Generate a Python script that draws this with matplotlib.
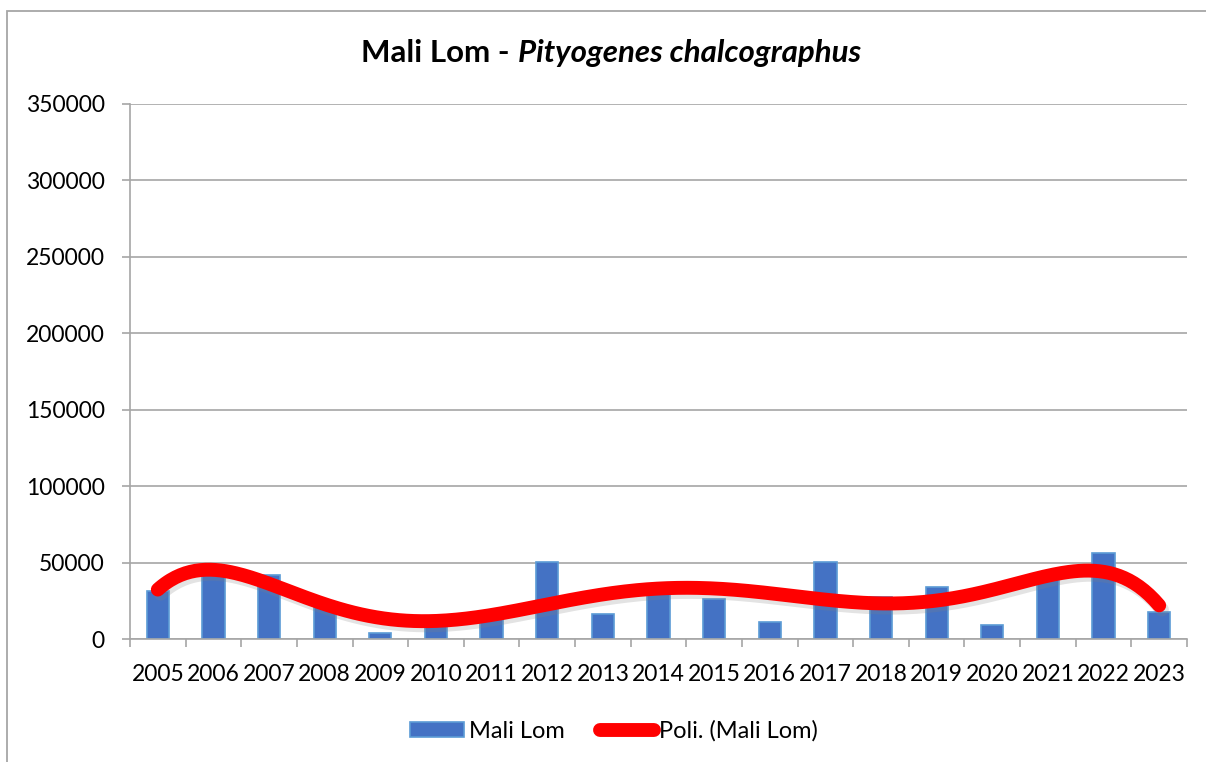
import numpy as np
import matplotlib
matplotlib.use("Agg")
import matplotlib.pyplot as plt
import matplotlib.patheffects as pe
from matplotlib.lines import Line2D
from matplotlib.patches import Patch, Rectangle

# Dados
anos = ["2005", "2006", "2007", "2008", "2009", "2010", "2011", "2012", "2013", "2014",
        "2015", "2016", "2017", "2018", "2019", "2020", "2021", "2022", "2023"]
mali_lom = [31500, 45000, 42000, 22000, 3700, 11000, 13300, 50300, 16500, 31000,
            26100, 11100, 50300, 27800, 33700, 9100, 41000, 56100, 17800]
y_ticks = [0, 50000, 100000, 150000, 200000, 250000, 300000, 350000]

titulo_normal = "Mali Lom - "
titulo_italico = "Pityogenes chalcographus"

plt.rcParams['font.family'] = ['Lato', 'DejaVu Sans']

fig = plt.figure(figsize=(12.06, 7.62), dpi=100)
W, H = 1206, 762

# moldura externa do gráfico (só esquerda e topo aparecem)
fig.patches.append(Rectangle((7 / W, -0.05), 1.2, 1.05 - 11 / H,
                             transform=fig.transFigure, fill=False,
                             edgecolor="#A6A6A6", linewidth=1.3))

ax = fig.add_axes([130 / W, 1 - 639 / H, (1187 - 130) / W, (639 - 104) / H])

x = np.arange(len(anos))
ax.bar(x, mali_lom, width=0.4, color="#4472C4", edgecolor="#5B9BD5",
       linewidth=1.2, zorder=2)

# linha de tendência polinomial (ordem 6)
p = np.polynomial.Polynomial.fit(x, mali_lom, 6)
xs = np.linspace(0, len(anos) - 1, 400)
ax.plot(xs, p(xs), color="#FF0000", linewidth=10, solid_capstyle="round",
        zorder=3,
        path_effects=[pe.SimpleLineShadow(offset=(2, -3), shadow_color="gray", alpha=0.22),
                      pe.Normal()])

ax.set_xlim(-0.5, len(anos) - 0.5)
ax.set_ylim(0, 350000)
ax.set_yticks(y_ticks)
ax.set_yticklabels([str(v) for v in y_ticks], fontsize=16.5)
ax.set_xticks(x)
ax.set_xticklabels(anos, fontsize=16.5)
ax.set_xticks(np.arange(-0.5, len(anos), 1), minor=True)
ax.tick_params(axis="x", which="major", length=0, pad=18)
ax.tick_params(axis="x", which="minor", length=6, color="#A6A6A6", width=1.2)
ax.tick_params(axis="y", length=6, color="#A6A6A6", width=1.2, pad=12)
ax.grid(axis="y", color="#A6A6A6", linewidth=1.2, zorder=0)
ax.set_axisbelow(True)
for s in ["top", "right"]:
    ax.spines[s].set_visible(False)
for s in ["left", "bottom"]:
    ax.spines[s].set_color("#A6A6A6")
    ax.spines[s].set_linewidth(1.2)

# título com parte em itálico
r = fig.canvas.get_renderer()
t1 = fig.text(0, 0, titulo_normal, fontsize=22.5, weight="bold")
t2 = fig.text(0, 0, titulo_italico, fontsize=22.5, weight="bold", style="italic")
w1 = t1.get_window_extent(r).width
w2 = t2.get_window_extent(r).width
x0 = 611 - (w1 + w2) / 2
ty = 1 - 53 / H
t1.set_position((x0 / W, ty))
t1.set_va("center")
t2.set_position(((x0 + w1) / W, ty))
t2.set_va("center")

handles = [Patch(facecolor="#4472C4", edgecolor="#5B9BD5", linewidth=1.2),
           Line2D([0], [0], color="#FF0000", linewidth=10, solid_capstyle="round")]
fig.legend(handles, ["Mali Lom", "Poli. (Mali Lom)"], loc="center",
           bbox_to_anchor=(614 / W, 1 - 731 / H), ncol=2, frameon=False,
           fontsize=17, handlelength=2.3, handleheight=0.55, handletextpad=0.2,
           columnspacing=1.5)

fig.savefig("out.png", dpi=100)
